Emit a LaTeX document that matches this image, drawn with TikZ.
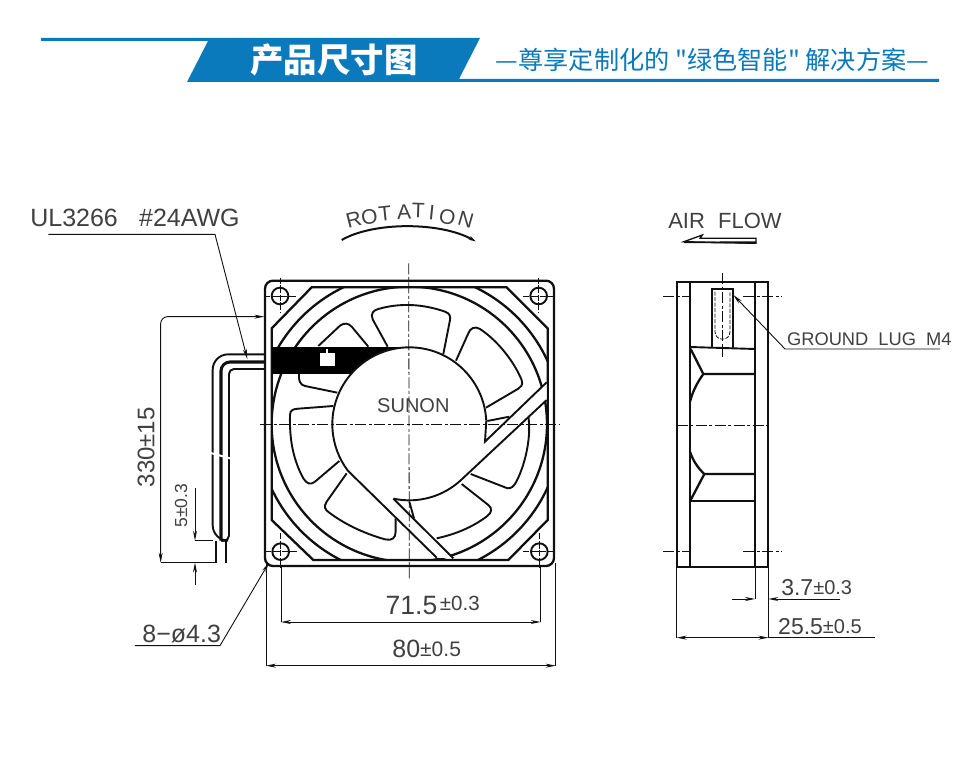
\documentclass[tikz,border=0pt]{standalone}
\usepackage{fontspec}
\usetikzlibrary{arrows.meta}
\setmainfont{Liberation Sans}
\newfontfamily\cjk{Noto Sans CJK SC}
\definecolor{hdrblue}{HTML}{0A7ABD}
\definecolor{ink}{HTML}{101010}
\definecolor{txt}{HTML}{404040}
\newcommand{\fs}[1]{\fontsize{#1}{#1}\selectfont}
\tikzset{
  thick line/.style={line width=2.3pt,draw=ink},
  med line/.style={line width=1.9pt,draw=ink},
  thin line/.style={line width=.9pt,draw=ink},
  center line/.style={line width=.8pt,draw=ink,dash pattern=on 11pt off 2.5pt on 3pt off 2.5pt},
  dimtip/.style={-{Stealth[length=10pt,width=4pt]}},
  dimtips/.style={{Stealth[length=10pt,width=4pt]}-{Stealth[length=10pt,width=4pt]}},
  lbl/.style={inner sep=0pt,text=txt,anchor=center},
}
\begin{document}
\begin{tikzpicture}[x=1pt,y=-1pt]
\useasboundingbox (0,0) rectangle (980,778);
\fill[white] (0,0) rectangle (980,778);
% ---------- header
\fill[hdrblue] (41,38) -- (480,38) -- (459,79) -- (939,79) -- (939,82) -- (187,82) -- (208,41) -- (41,41) -- cycle;
\node[inner sep=0pt,text=white] (title) at (334,60) {\cjk\bfseries\fs{33.4}产品尺寸图};
\node[inner sep=0pt,text=hdrblue] (subtitle) at (712.5,60) {\cjk\fs{25.2}—尊享定制化的 "绿色智能" 解决方案—};
% ---------- front view
\begin{scope}[shift={(250,260)},scale=0.33333]
  \coordinate (C) at (478,493);
  % frame
  \draw[thick line,rounded corners=8pt] (45,62) rectangle (912,918);
  \draw[thick line] (185,82) -- (770,82) -- (893,205) -- (893,780) -- (775,900) -- (190,900) -- (65,780) -- (65,205) -- cycle;
  \begin{scope}
    \clip (185,82) -- (770,82) -- (893,205) -- (893,780) -- (775,900) -- (190,900) -- (65,780) -- (65,205) -- cycle;
    \draw[thick line] (C) circle[radius=456];
    \draw[thick line] (C) circle[radius=413];
  \end{scope}
  % blades
  \draw[med line] (413,260) -- (368,178) .. controls (360,160) and (372,150) .. (385,147) .. controls (450,128) and (520,132) .. (585,155) .. controls (600,160) and (602,170) .. (600,180) -- (580,282);
  \draw[med line] (618,302) -- (655,220) .. controls (660,205) and (675,197) .. (690,207) .. controls (740,240) and (790,300) .. (815,360) .. controls (820,375) and (812,382) .. (805,386) -- (708,443);
  \draw[med line] (712,483) -- (778,470);
  \draw[med line] (835,470) .. controls (845,530) and (825,620) .. (795,672) .. controls (785,687) and (775,687) .. (765,682) -- (662,642);
  \draw[med line] (635,672) -- (715,735) .. controls (728,745) and (725,758) .. (712,768) .. controls (670,800) and (620,822) .. (560,835);
  \draw[med line] (478,725) -- (492,775);
  \draw[med line] (290,640) -- (230,725) .. controls (220,740) and (225,750) .. (238,758) .. controls (280,790) and (340,820) .. (405,838) .. controls (425,843) and (437,835) .. (437,815) -- (437,775);
  \draw[med line] (268,603) -- (195,665) .. controls (180,677) and (170,670) .. (160,655) .. controls (130,600) and (118,540) .. (120,465) .. controls (120,450) and (130,447) .. (145,446) -- (250,438);
  \draw[med line] (262,398) -- (165,378) .. controls (150,375) and (145,360) .. (147,342);
  \draw[med line] (205,258) -- (270,197) .. controls (285,187) and (295,190) .. (305,200) -- (355,260);
  % black bar
  \fill[black] (65,262) rectangle (480,342);
  \fill[white] (210,280) rectangle (255,317);
  \fill[white] (229,267) rectangle (235,280);
  % struts and hub
  \fill[white] (705,545) -- (890,367) -- (890,420) -- (640,660) -- cycle;
  \fill[white] (430,716) -- (610,895) -- (560,893) -- (290,635) -- cycle;
  \fill[white] (C) circle[radius=230];
  \draw[med line] (C) ++(-3:231) arc[start angle=-3,end angle=-217,radius=231] -- (560,893);
  \draw[med line] (C) ++(102:228) arc[start angle=102,end angle=46,radius=228] -- (890,420);
  \draw[med line] (709,481) -- (705,545) -- (890,367);
  \draw[med line] (430,716) -- (610,895);
  % holes
  \foreach \hx/\hy in {90/108,866/108,92/875,868/875}{
    \draw[med line] (\hx,\hy) circle[radius=25];
    \draw[center line,dash pattern=on 6pt off 1.5pt on 8pt off 1.5pt] (\hx-48,\hy) -- (\hx+48,\hy);
    \draw[center line,dash pattern=on 6pt off 1.5pt on 8pt off 1.5pt] (\hx,\hy-55) -- (\hx,\hy+48);
  }
  % centre lines
  \draw[center line] (476,10) -- (478,958);
  \draw[center line] (30,493) -- (930,493);
  \node[lbl] (sunon) at (490,437) {\fs{20}SUNON};
\end{scope}
% ---------- rotation
\begin{scope}[shift={(330,195)},scale=0.33333]
  \draw[line width=2pt,draw=ink,-{Stealth[length=7pt,width=4pt]}] (35,135) .. controls (130,80) and (330,80) .. (437,139);
  \node[lbl,rotate=14] (r1) at (71,75) {\fs{21}R};
  \node[lbl,rotate=10] (r2) at (118,65) {\fs{21}O};
  \node[lbl,rotate=6] (r3) at (165,57) {\fs{21}T};
  \node[lbl,rotate=2] (r4) at (222,50) {\fs{21}A};
  \node[lbl,rotate=-2] (r5) at (265,48) {\fs{21}T};
  \node[lbl,rotate=-6] (r6) at (305,52) {\fs{21}I};
  \node[lbl,rotate=-12] (r7) at (352,65) {\fs{21}O};
  \node[lbl,rotate=-16] (r8) at (408,75) {\fs{21}N};
\end{scope}
% ---------- wires and left dimensions
\begin{scope}[shift={(20,190)},scale=0.33333]
  \draw[med line,rounded corners=15.5pt] (735,493) -- (578,493) -- (578,1052) -- (603,1052);
  \draw[med line,rounded corners=10pt] (735,514) -- (601,514) -- (601,1052);
  \draw[med line,rounded corners=8pt] (735,518) -- (605,518) -- (605,1052);
  \draw[med line,rounded corners=5pt] (735,537) -- (627,537) -- (627,1052) -- (605,1052);
  \draw[line width=2pt,white] (572,789) -- (634,806);
  \draw[med line] (588,1052) -- (588,1120);
  \draw[med line] (617,1052) -- (617,1120);
  % 330
  \draw[thin line,rounded corners=7pt,dimtips] (422,1118) -- (422,380) -- (733,380);
  \draw[thin line] (422,1118) -- (588,1118);
  % 5
  \draw[thin line,dimtip] (525,893) -- (525,1052);
  \draw[thin line,dimtip] (525,1185) -- (525,1118);
  \draw[thin line] (525,1052) -- (580,1052);
  % UL leader
  \draw[thin line,dimtip] (85,133) -- (585,133) -- (682,507);
  % 8-phi leader
  \draw[thin line,dimtip] (345,1367) -- (600,1367) -- (747,1118);
  \node[lbl] (wire) at (345,85) {\fs{25}UL3266\hspace{.85em}\#24AWG};
  \node[lbl,rotate=90] (d330) at (378,772) {\fs{24}330±15};
  \node[lbl,rotate=90] (d5) at (483,947) {\fs{17.5}5±0.3};
  \node[lbl] (holes) at (485,1333) {\fs{25}8−ø4.3};
\end{scope}
% ---------- bottom dimensions
\begin{scope}[shift={(260,560)},scale=0.33333]
  \draw[thin line] (63,18) -- (63,186);
  \draw[thin line] (842,18) -- (842,186);
  \draw[thin line,dimtips] (63,186) -- (842,186);
  \draw[thin line] (18,10) -- (18,317);
  \draw[thin line] (887,10) -- (887,317);
  \draw[thin line,dimtips] (18,317) -- (887,317);
  \node[lbl] (d715) at (518,136) {\fs{26.5}71.5\hspace{.1em}\raisebox{3.5pt}{\fs{20.5}±0.3}};
  \node[lbl] (d80) at (500,268) {\fs{25}80\raisebox{1.5pt}{\fs{21}±0.5}};
\end{scope}
% ---------- side view
\begin{scope}[shift={(650,200)},scale=0.33333]
  \draw[thick line] (80,245) rectangle (355,1102);
  \draw[thick line] (120,245) -- (120,1102);
  \draw[thick line] (315,245) -- (315,1102);
  \draw[thick line] (185,443) -- (185,268) -- (250,268) -- (250,443);
  \draw[med line] (120,441) -- (315,447);
  \draw[thick line] (122,447) -- (160,522) -- (315,522);
  \draw[thick line] (160,522) .. controls (140,550) and (128,575) .. (120,605);
  \draw[thick line] (120,755) .. controls (130,785) and (145,805) .. (163,822) -- (315,822);
  \draw[thick line] (163,822) -- (122,900);
  \draw[med line] (120,903) -- (315,903);
  % lug details
  \draw[line width=.8pt,draw=ink,dash pattern=on 4pt off 1.5pt] (195,275) -- (195,395) .. controls (195,425) and (240,425) .. (240,395) -- (240,275);
  \draw[center line] (217,220) -- (217,470);
  \draw[center line] (40,290) -- (120,290);
  \draw[center line] (280,290) -- (395,290);
  \draw[center line] (40,1055) -- (120,1055);
  \draw[center line] (280,1055) -- (395,1055);
  \draw[center line] (80,675) -- (355,675);
  % air flow arrow
  \draw[line width=1.3pt,draw=ink] (318,115) -- (150,115) -- (157,105) -- (102,125) -- (318,130) -- cycle;
  \fill[ink] (102,125) -- (318,124) -- (318,131) -- (102,129) -- cycle;
  % leader
  \draw[thin line,dimtip] (870,447) -- (405,447) -- (250,285);
  % dims
  \draw[thin line] (315,1102) -- (315,1197);
  \draw[thin line] (355,1102) -- (355,1315);
  \draw[thin line] (80,1102) -- (80,1315);
  \draw[thin line,dimtip] (245,1197) -- (315,1197);
  \draw[thin line,dimtip] (570,1197) -- (355,1197);
  \draw[thin line,dimtips] (80,1313) -- (355,1313);
  \draw[thin line] (355,1313) -- (675,1313);
  \node[lbl] (air) at (225,62) {\fs{22}AIR\hspace{.6em}FLOW};
  \node[lbl] (lug) at (658,418) {\fs{18.3}GROUND\hspace{.55em}LUG\hspace{.55em}M4};
  \node[lbl] (d37) at (500,1162) {\fs{23}3.7\raisebox{1pt}{\fs{20}±0.3}};
  \node[lbl] (d255) at (510,1280) {\fs{23}25.5\raisebox{1pt}{\fs{20}±0.5}};
\end{scope}
\end{tikzpicture}
\end{document}
